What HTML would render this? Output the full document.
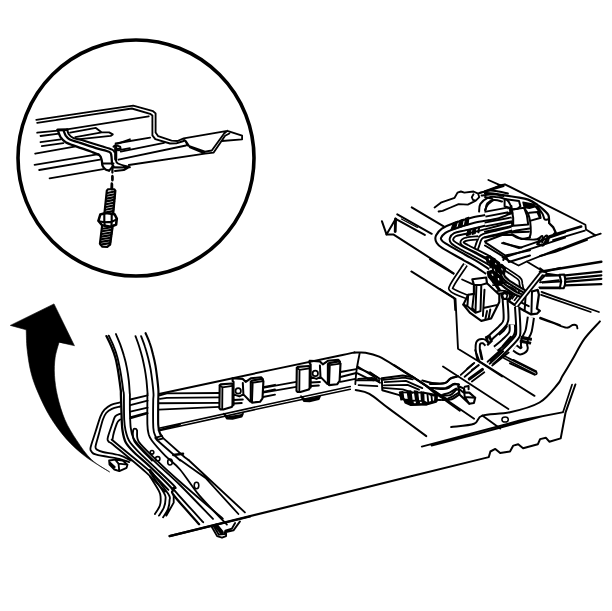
<!DOCTYPE html>
<html><head><meta charset="utf-8"><title>Diagram</title>
<style>html,body{margin:0;padding:0;background:#fff;font-family:"Liberation Sans",sans-serif;}svg{display:block}</style></head>
<body>
<svg width="612" height="611" viewBox="0 0 612 611" stroke-linecap="round" stroke-linejoin="round">
<circle cx="136" cy="158" r="118" fill="none" stroke="#000" stroke-width="3.6"/>
<path d="M59.0,342.5 C58.3,345.0 55.9,352.3 55.1,357.8 C54.4,363.3 54.1,369.1 54.5,375.5 C54.9,381.9 55.8,388.8 57.5,396.1 C59.2,403.5 61.7,412.3 64.9,419.7 C68.1,427.1 72.2,433.7 76.7,440.4 C81.1,447.0 85.9,454.2 91.4,459.5 C96.9,464.8 106.6,469.9 109.7,472.0 C105.7,469.4 92.7,462.1 85.5,456.6 C78.3,451.0 72.2,445.5 66.3,438.9 C60.4,432.2 54.8,424.4 50.1,416.8 C45.5,409.2 41.5,400.6 38.3,393.2 C35.1,385.8 32.8,379.9 31.0,372.5 C29.1,365.2 27.9,356.1 27.1,349.0 C26.3,341.8 26.4,333.0 26.2,329.8 L10.3,325.4 L54.0,303.9 L74.3,345.4Z" fill="#000" stroke="#000" stroke-width="0.6" stroke-linejoin="miter"/>
<path fill="none" stroke="#000" stroke-width="1.85" d="M36.3,119.9 L95.0,111.2 L133.2,105.6 L153.1,111.2 L155.6,113.4 L155.6,132.5 L158.2,136.2 L171.5,140.6 L177.4,141.0 L183.7,138.4 L227.3,130.8 L242.1,135.7 L242.1,139.3 L222.0,141.0 M37.2,122.9 L95.0,114.1 L131.8,108.5 L150.1,113.8 L152.4,115.6 L152.4,135.4 L155.3,139.1 L170.0,143.5 L176.3,143.3 L183.7,141.0 M183.7,138.4 L188.0,145.7 L205.0,151.6 L211.8,150.5 L224.1,133.5 L227.3,130.8 M185.8,141.0 L190.1,147.4 L205.0,153.7 L213.5,152.7 L225.1,135.7 L229.4,133.5 M37.2,132.7 L58.0,130.6 M67.0,129.3 L148.7,116.3 M115.6,143.5 L150.1,137.6 M120.7,151.6 L164.1,142.8 M118.5,159.7 L186.0,145.5 M128.8,165.0 L205.0,153.7 M40.5,136.0 L59.1,133.6 M40.5,142.2 L60.8,139.3 M41.8,146.1 L63.4,143.2 M35.2,153.7 L74.5,146.7 M34.6,164.8 L98.7,154.1 M39.2,170.0 L100.0,159.6 M49.6,178.3 L103.3,169.1 M70.1,132.6 L95.9,127.9 L101.8,132.4 L75.3,137.1 M101.8,132.4 L109.1,132.4 L112.8,134.4 L110.6,135.9 L77.5,139.3"/>
<path fill="none" stroke="#000" stroke-width="2.84" d="M57.6,130.0 L67.2,129.7"/>
<path fill="none" stroke="#000" stroke-width="2.27" d="M57.9,130.4 C58.4,131.5 59.3,135.1 60.6,137.1 C61.9,139.0 63.0,140.6 65.7,142.2 C68.4,143.8 72.5,145.0 76.8,146.6 C81.1,148.2 87.7,150.3 91.5,151.8 C95.3,153.2 97.8,154.0 99.6,155.4 C101.3,156.9 101.3,158.9 101.8,160.6 C102.3,162.3 101.9,164.3 102.5,165.7 C103.1,167.2 104.3,168.6 105.4,169.4 C106.5,170.2 108.5,170.4 109.1,170.6 M63.5,130.4 C63.9,131.3 64.8,134.1 65.7,135.6 C66.7,137.1 67.3,138.2 69.4,139.3 C71.5,140.4 73.8,140.7 78.2,142.2 C82.6,143.7 90.7,146.5 95.9,148.1 C101.0,149.7 106.5,150.5 109.1,151.8 C111.7,153.0 110.8,153.5 111.3,155.4 C111.8,157.4 111.7,161.7 112.1,163.5 C112.4,165.4 113.3,166.0 113.5,166.5"/>
<path fill="none" stroke="#000" stroke-width="1.99" d="M67.2,129.7 C67.5,130.4 67.7,132.8 68.7,134.1 C69.7,135.5 70.5,136.7 73.1,137.8 C75.7,138.9 79.3,139.3 84.1,140.7 C88.9,142.1 97.1,144.7 101.8,146.2 C106.4,147.6 110.0,148.6 112.1,149.6 C114.1,150.5 113.9,151.4 114.3,151.8"/>
<path fill="none" stroke="#000" stroke-width="3.12" d="M115.7,145.9 L115.7,159.1"/>
<path fill="none" stroke="#000" stroke-width="1.99" d="M115.7,159.1 C116.1,159.9 115.6,162.2 117.9,163.5 C120.3,164.9 127.9,166.6 129.9,167.2 M113.5,146.6 L115.7,145.1 L120.1,146.6 L120.6,148.5 L117.2,149.1 M103.2,163.5 L113.5,163.5 M109.1,170.6 L112.1,167.2 L128.2,167.6 L123.8,170.1 L115.0,170.9"/>
<path fill="none" stroke="#000" stroke-width="2.27" d="M112.4,166.8 L112.4,172.6 M112.4,176.8 L112.4,180.4 M112.1,184.1 L112.1,189.3"/>
<path fill="none" stroke="#000" stroke-width="1.85" d="M117.9,143.7 L129.9,139.3 M117.9,150.3 L129.9,148.1"/>
<path fill="none" stroke="#000" stroke-width="2.13" d="M104.3,214.2 L106.8,190.6 L108.0,189.2 L114.2,189.2 L115.4,190.6 L113.2,214.2 M107.3,193.0 L114.6,191.5"/>
<path fill="none" stroke="#000" stroke-width="1.85" d="M114.6,191.5 L115.1,193.0"/>
<path fill="none" stroke="#000" stroke-width="2.13" d="M107.0,195.8 L114.4,194.3"/>
<path fill="none" stroke="#000" stroke-width="1.85" d="M114.4,194.3 L114.8,195.8"/>
<path fill="none" stroke="#000" stroke-width="2.13" d="M106.7,198.6 L114.1,197.1"/>
<path fill="none" stroke="#000" stroke-width="1.85" d="M114.1,197.1 L114.6,198.6"/>
<path fill="none" stroke="#000" stroke-width="2.13" d="M106.4,201.4 L113.9,199.9"/>
<path fill="none" stroke="#000" stroke-width="1.85" d="M113.9,199.9 L114.3,201.4"/>
<path fill="none" stroke="#000" stroke-width="2.13" d="M106.1,204.2 L113.6,202.7"/>
<path fill="none" stroke="#000" stroke-width="1.85" d="M113.6,202.7 L114.0,204.2"/>
<path fill="none" stroke="#000" stroke-width="2.13" d="M105.8,207.0 L113.3,205.5"/>
<path fill="none" stroke="#000" stroke-width="1.85" d="M113.3,205.5 L113.8,207.0"/>
<path fill="none" stroke="#000" stroke-width="2.13" d="M105.5,209.8 L113.1,208.3"/>
<path fill="none" stroke="#000" stroke-width="1.85" d="M113.1,208.3 L113.5,209.8"/>
<path fill="none" stroke="#000" stroke-width="2.13" d="M105.2,212.6 L112.8,211.1"/>
<path fill="none" stroke="#000" stroke-width="1.85" d="M112.8,211.1 L113.2,212.6"/>
<path fill="none" stroke="#000" stroke-width="2.56" d="M98.4,220.8 L100.3,214.5 L105.8,213.0 L114.6,214.2 L116.8,218.6 L116.1,224.5 L110.9,226.7 L102.1,225.3 L98.4,220.8"/>
<path fill="none" stroke="#000" stroke-width="2.13" d="M98.9,221.3 L104.3,222.3 L111.7,221.9 L116.5,219.4 M104.3,214.2 L104.3,222.3 M111.7,214.2 L111.7,221.9 M104.3,222.3 L104.8,225.7 M111.7,221.9 L111.4,226.6 M102.1,225.7 L99.9,243.7 L102.1,246.6 L107.3,246.9 L110.2,244.4 L112.7,226.3 M102.5,228.7 L111.9,227.2"/>
<path fill="none" stroke="#000" stroke-width="1.85" d="M111.9,227.2 L112.3,228.7"/>
<path fill="none" stroke="#000" stroke-width="2.13" d="M102.2,231.3 L111.5,229.8"/>
<path fill="none" stroke="#000" stroke-width="1.85" d="M111.5,229.8 L112.0,231.3"/>
<path fill="none" stroke="#000" stroke-width="2.13" d="M101.8,234.0 L111.2,232.5"/>
<path fill="none" stroke="#000" stroke-width="1.85" d="M111.2,232.5 L111.6,234.0"/>
<path fill="none" stroke="#000" stroke-width="2.13" d="M101.5,236.6 L110.8,235.1"/>
<path fill="none" stroke="#000" stroke-width="1.85" d="M110.8,235.1 L111.2,236.6"/>
<path fill="none" stroke="#000" stroke-width="2.13" d="M101.2,239.3 L110.4,237.8"/>
<path fill="none" stroke="#000" stroke-width="1.85" d="M110.4,237.8 L110.9,239.3"/>
<path fill="none" stroke="#000" stroke-width="2.13" d="M100.9,241.9 L110.1,240.4"/>
<path fill="none" stroke="#000" stroke-width="1.85" d="M110.1,240.4 L110.5,241.9"/>
<path fill="none" stroke="#000" stroke-width="2.13" d="M100.6,244.6 L109.7,243.1"/>
<path fill="none" stroke="#000" stroke-width="1.85" d="M109.7,243.1 L110.2,244.6"/>
<path fill="none" stroke="#000" stroke-width="2.27" d="M112.4,175.9 L112.4,179.6 M111.7,183.3 L111.4,189.2 M106.4,336.1 C107.2,337.8 109.8,342.7 111.3,346.3 C112.8,349.9 114.3,353.9 115.4,357.7 C116.5,361.6 117.1,365.4 117.8,369.2 C118.5,373.0 119.0,377.1 119.5,380.6 C120.0,384.2 120.5,388.1 120.8,390.5 C121.0,392.9 120.8,390.2 120.9,395.0 C121.1,399.8 121.5,413.5 121.7,419.5 C122.0,425.6 121.9,427.2 122.6,431.0 C123.2,434.8 123.9,438.9 125.8,442.5 C127.7,446.0 129.9,448.2 134.0,452.3 C138.1,456.4 144.1,461.0 150.4,467.0 C156.7,473.0 167.8,483.6 171.7,488.3 C175.5,493.0 169.2,489.2 173.7,495.2 C178.3,501.2 194.9,519.3 199.1,524.2"/>
<path fill="none" stroke="#000" stroke-width="1.85" d="M108.8,335.6 C109.6,337.4 112.3,342.6 113.7,346.3 C115.2,350.0 116.5,353.9 117.5,357.7 C118.5,361.6 119.2,365.4 120.0,369.2 C120.7,373.0 121.4,377.1 121.9,380.6 C122.5,384.2 122.9,388.1 123.2,390.5 C123.5,392.9 123.7,390.2 123.9,395.0 C124.0,399.8 123.9,413.7 124.2,419.5 C124.5,425.4 124.7,426.6 125.5,430.2 C126.3,433.7 127.1,437.4 129.1,440.8 C131.1,444.2 133.2,446.4 137.3,450.6 C141.4,454.9 147.4,460.2 153.6,466.2 C159.9,472.2 171.4,482.6 174.9,486.7 C178.4,490.7 169.8,484.4 174.5,490.3 C179.3,496.2 198.4,516.9 203.2,522.2 M115.9,334.0 C116.6,335.8 118.9,341.0 120.3,344.6 C121.6,348.3 123.0,352.3 124.0,356.1 C125.1,359.9 126.0,363.5 126.8,367.6 C127.6,371.6 128.3,376.3 128.8,380.6 C129.3,385.0 129.6,391.3 129.8,393.7 C130.0,396.1 129.9,392.1 129.9,395.0 C129.9,397.9 129.8,405.9 129.9,411.4 C130.1,416.8 130.2,423.4 130.7,427.7 C131.3,432.1 131.6,434.3 133.2,437.6 C134.8,440.8 136.6,443.0 140.6,447.4 C144.5,451.7 150.3,457.5 156.9,463.7 C163.5,470.0 170.7,475.8 180.0,485.0 C189.3,494.2 207.5,513.3 213.0,518.9 M135.5,336.1 C136.1,337.8 138.0,342.7 139.1,346.3 C140.2,349.9 141.4,353.9 142.4,357.7 C143.3,361.6 144.1,365.4 144.8,369.2 C145.5,373.0 146.0,376.6 146.5,380.6 C146.9,384.7 147.4,391.3 147.6,393.7 C147.8,396.1 147.5,389.9 147.4,395.0 C147.4,400.1 147.2,417.9 147.4,424.5 C147.6,431.0 148.0,431.6 148.7,434.3 C149.5,437.0 149.3,437.3 152.0,440.8 C154.7,444.4 160.4,450.8 165.1,455.6 C169.8,460.3 174.3,462.9 180.0,469.5 C185.7,476.1 191.3,486.0 199.1,495.2 C206.9,504.4 222.3,519.7 226.9,524.6 M141.1,336.1 C141.7,337.8 143.7,342.7 144.8,346.3 C146.0,349.9 147.1,353.9 148.1,357.7 C149.1,361.6 149.9,365.4 150.6,369.2 C151.2,373.0 151.7,376.6 152.2,380.6 C152.7,384.7 153.3,390.3 153.5,393.7 C153.7,397.2 153.2,395.9 153.2,401.5 C153.1,407.2 153.0,422.0 153.3,427.7 C153.7,433.5 154.7,434.1 155.3,435.9 C155.9,437.7 156.7,438.0 156.9,438.4"/>
<path fill="none" stroke="#000" stroke-width="2.13" d="M145.6,333.2 C146.3,334.8 148.5,339.5 149.7,343.0 C151.0,346.5 152.1,350.6 153.0,354.5 C154.0,358.3 154.8,362.1 155.5,365.9 C156.1,369.7 156.6,373.3 157.1,377.4 C157.6,381.5 158.2,386.4 158.4,390.5 C158.6,394.5 158.3,395.9 158.2,401.5 C158.2,407.2 158.0,419.3 158.2,424.5 C158.5,429.6 159.1,430.7 159.7,432.6 C160.3,434.6 161.5,435.4 161.8,435.9"/>
<path fill="none" stroke="#000" stroke-width="1.85" d="M130.3,399.5 L147.6,395.4 M130.3,405.2 L147.6,400.6 M130.3,411.7 L147.6,407.7 M130.3,418.3 L147.6,413.4 M130.7,417.1 L147.4,412.7 M152.0,460.5 C149.4,457.7 139.6,447.9 136.5,444.1 C133.3,440.3 133.7,439.9 133.2,437.6 C132.6,435.2 132.9,431.7 133.2,430.2 C133.5,428.7 134.2,428.6 134.8,428.6 C135.5,428.6 136.5,428.7 137.0,430.2 C137.4,431.7 136.7,435.2 137.3,437.6 C137.9,439.9 137.0,440.0 140.6,444.1 C144.1,448.2 152.0,455.8 158.6,462.1 C165.1,468.4 169.3,472.3 180.0,481.7 C190.7,491.2 215.7,512.5 222.8,518.6 M120.1,402.4 C118.6,402.8 113.7,403.6 111.1,404.8 C108.5,406.0 106.3,407.8 104.5,409.7 C102.8,411.6 102.0,412.6 100.5,416.3 C99.0,420.0 97.2,426.6 95.5,431.8 C93.9,437.0 91.3,444.1 90.6,447.4 C90.0,450.6 90.5,450.2 91.5,451.5 C92.4,452.7 91.7,453.5 96.4,454.7 C101.0,456.0 113.8,457.6 119.3,458.8 C124.7,460.1 127.5,461.6 129.1,462.1 M120.1,406.5 C118.7,406.9 114.2,407.8 111.9,408.9 C109.6,410.0 107.7,411.2 106.2,413.0 C104.7,414.8 104.1,416.0 102.9,419.5 C101.7,423.1 100.0,429.8 98.8,434.3 C97.6,438.8 95.8,444.0 95.5,446.6 C95.3,449.1 96.0,448.9 97.2,449.8 C98.4,450.7 99.2,451.1 102.9,452.0 C106.6,452.9 114.6,453.8 119.3,455.2 C123.9,456.6 128.8,459.6 130.7,460.5 M120.1,413.8 C119.3,414.2 116.4,414.8 115.2,416.3 C114.0,417.8 114.0,419.3 112.7,422.8 C111.5,426.4 108.5,434.4 107.8,437.6 C107.1,440.7 107.6,440.3 108.6,441.6 C109.7,443.0 108.2,440.7 114.4,445.7 C120.5,450.8 137.0,464.3 145.5,471.9 C153.9,479.6 161.8,488.3 165.1,491.6 M120.1,419.5 C119.6,420.2 118.1,420.5 116.8,423.6 C115.6,426.8 113.0,435.2 112.7,438.4 C112.5,441.5 109.2,437.1 115.2,442.5 C121.2,447.8 139.9,462.4 148.7,470.3 C157.6,478.2 165.1,486.7 168.4,489.9 M109.1,460.5 L115.2,459.6 L122.6,460.5 L127.5,464.6 L126.6,467.8 L119.3,471.1 L114.4,469.5 L109.5,464.6 L109.1,460.5 M115.2,459.6 L118.5,463.7 L119.3,471.1 M118.5,463.7 L127.5,464.6 M109.5,462.1 L114.7,467.0 M155.3,437.9 L161.8,435.9 L163.5,438.4 L156.9,440.0 L155.3,437.9 M156.9,440.0 L180.3,460.5 M163.5,438.4 L184.7,457.2 L188.5,460.0"/>
<g fill="none" stroke="#000" stroke-width="1.6"><circle cx="152" cy="452.3" r="1.8"/><circle cx="157.7" cy="458.8" r="2.2"/><ellipse cx="170" cy="462" rx="2.3" ry="3"/><ellipse cx="196.5" cy="485.5" rx="2.3" ry="3.2"/></g>
<path fill="none" stroke="#000" stroke-width="1.85" d="M158.6,430.2 L180.0,424.5 M150.0,476.4 C151.5,478.8 157.2,487.6 159.0,491.1 C160.8,494.6 160.5,495.2 160.6,497.6 C160.8,500.1 160.8,503.1 159.8,505.8 C158.9,508.6 155.7,512.6 154.9,514.0 M150.0,472.3 C152.3,475.7 161.3,488.2 163.9,492.7 C166.5,497.2 165.5,496.8 165.5,499.3 C165.5,501.7 165.0,504.7 163.9,507.5 C162.8,510.2 159.8,514.3 159.0,515.6 M150.0,469.8 C153.0,473.8 164.7,488.5 168.0,493.6 C171.3,498.6 169.6,497.5 169.6,500.1 C169.6,502.7 169.1,506.2 168.0,509.1 C166.9,512.0 163.9,515.9 163.1,517.3 M173.7,495.2 L173.7,502.6 L166.4,515.6 M180.3,460.0 L205.6,478.0 L238.4,514.0 M188.5,460.0 L244.9,512.4"/>
<path fill="none" stroke="#000" stroke-width="2.27" d="M169.6,536.1 L250.0,516.5"/>
<path fill="none" stroke="#000" stroke-width="1.85" d="M211.4,526.3 L217.1,536.1 L222.0,537.7 L226.1,536.1 L226.1,532.0 L233.5,530.4 L240.0,521.4 M213.8,526.3 L218.7,534.5 L224.5,534.0 L225.3,530.7 L231.8,528.7 L235.1,523.0"/>
<path fill="none" stroke="#000" stroke-width="4.26" d="M216.3,525.8 L221.7,532.3"/>
<path fill="none" stroke="#000" stroke-width="1.99" d="M158.9,394.0 C178.3,389.9 244.4,375.6 275.0,369.1 C305.6,362.6 329.3,357.7 342.5,355.0 C355.7,352.2 352.4,352.8 354.3,352.4 C356.1,352.0 351.9,352.7 353.7,352.7 C355.6,352.8 361.2,352.1 365.5,352.7 C369.7,353.4 373.7,354.1 379.2,356.7 C384.8,359.3 391.6,363.9 398.8,368.4 C406.0,373.0 415.2,379.2 422.4,384.1 C429.5,389.0 435.7,393.4 442.0,397.8 C448.2,402.3 456.8,408.5 459.8,410.6"/>
<path fill="none" stroke="#000" stroke-width="1.49" d="M158.9,428.2 L275.0,402.7 L350.3,386.6 M158.9,430.7 L275.0,405.2 L350.3,389.3"/>
<path fill="none" stroke="#000" stroke-width="1.85" d="M359.6,353.7 C359.1,356.3 357.4,364.3 356.7,369.4 C355.9,374.5 355.5,381.7 355.3,384.1"/>
<path fill="none" stroke="#000" stroke-width="1.99" d="M355.7,390.0 C358.0,390.7 363.9,390.8 369.4,393.9 C375.0,397.0 379.5,401.6 389.0,408.6 C398.5,415.7 420.1,431.5 426.3,436.1"/>
<path fill="none" stroke="#000" stroke-width="1.85" d="M159.9,395.4 L166.8,393.4 L219.8,393.0 M159.9,398.9 L166.8,397.9 L219.8,397.3 M158.9,403.2 L219.8,402.8 M158.9,409.7 L219.8,406.8 M263.0,387.1 L275.0,384.8 M263.0,392.0 L275.0,389.5 M263.0,397.0 L275.0,394.6"/>
<path fill="#fff" stroke="#000" stroke-width="2.13" d="M219.7,385.4 L220.8,384.4 L231.9,383.5 L232.7,384.6 L232.5,405.8 L231.6,407.0 L223.3,409.5 L220.5,409.5 L219.4,408.3Z"/>
<path fill="none" stroke="#000" stroke-width="1.85" d="M222.2,409.0 L222.4,387.3 L232.5,385.8 M219.7,385.4 L222.4,387.3"/>
<path fill="none" stroke="#000" stroke-width="2.13" d="M232.7,381.2 L232.5,378.3 L242.8,378.9 L245.7,381.8 L250.8,378.3 L261.1,377.2 L262.9,379.2"/>
<path fill="none" stroke="#000" stroke-width="1.99" d="M233.6,381.8 L233.6,404.9 M242.8,382.9 L243.4,394.4 L250.3,401.5 M233.6,400.1 L242.8,399.5 M234.2,403.5 L241.7,403.0 M233.6,394.4 L239.4,396.4 L243.4,394.4"/>
<circle cx="238.2" cy="390.9" r="2.7" fill="none" stroke="#000" stroke-width="1.7"/>
<path fill="#fff" stroke="#000" stroke-width="2.13" d="M250.8,381.8 L252.0,380.6 L261.7,378.9 L263.4,381.2 L262.5,398.4 L260.0,401.8 L252.0,402.6 L250.8,401.0Z"/>
<path fill="none" stroke="#000" stroke-width="1.85" d="M252.0,402.2 L252.7,382.7 L263.2,381.2 M250.8,381.8 L252.7,382.7"/>
<path fill="#000" stroke="#000" stroke-width="1.70" d="M223.9,413.6 L226.8,418.7 L232.5,419.0 L241.7,416.7 L243.0,413.6 L240.5,415.2 L227.9,417.1Z"/>
<path fill="none" stroke="#000" stroke-width="1.85" d="M262.9,387.8 L296.3,381.9 M262.9,392.7 L296.3,386.8 M340.5,372.0 L356.2,369.1 M340.5,377.0 L356.2,373.0 M340.5,381.9 L355.3,378.9 M358.2,368.1 L370.0,373.0 L380.0,378.9 M358.2,378.9 L371.9,377.9 L380.0,382.8"/>
<path fill="#fff" stroke="#000" stroke-width="2.13" d="M296.8,367.9 L297.9,366.9 L309.0,366.0 L309.8,367.1 L309.6,388.3 L308.7,389.5 L300.4,392.0 L297.6,392.0 L296.5,390.8Z"/>
<path fill="none" stroke="#000" stroke-width="1.85" d="M299.3,391.5 L299.5,369.8 L309.6,368.3 M296.8,367.9 L299.5,369.8"/>
<path fill="none" stroke="#000" stroke-width="2.13" d="M309.8,363.7 L309.6,360.8 L319.9,361.4 L322.8,364.3 L327.9,360.8 L338.2,359.7 L340.0,361.7"/>
<path fill="none" stroke="#000" stroke-width="1.99" d="M310.7,364.3 L310.7,387.4 M319.9,365.4 L320.5,376.9 L327.4,384.0 M310.7,382.6 L319.9,382.0 M311.3,386.0 L318.8,385.5 M310.7,376.9 L316.5,378.9 L320.5,376.9"/>
<circle cx="315.3" cy="373.4" r="2.7" fill="none" stroke="#000" stroke-width="1.7"/>
<path fill="#fff" stroke="#000" stroke-width="2.13" d="M327.9,364.3 L329.1,363.1 L338.8,361.4 L340.5,363.7 L339.6,380.9 L337.1,384.3 L329.1,385.1 L327.9,383.5Z"/>
<path fill="none" stroke="#000" stroke-width="1.85" d="M329.1,384.7 L329.8,365.2 L340.3,363.7 M327.9,364.3 L329.8,365.2"/>
<path fill="#000" stroke="#000" stroke-width="1.70" d="M301.0,396.1 L303.9,401.2 L309.6,401.5 L318.8,399.2 L320.1,396.1 L317.6,397.7 L305.0,399.6Z"/>
<path fill="none" stroke="#000" stroke-width="1.85" d="M357.6,366.5 L373.3,376.3 L379.2,382.2 M357.6,373.3 L371.4,380.2 M356.7,380.2 L379.2,380.2 M358.6,385.1 L377.3,386.1"/>
<path fill="#fff" stroke="#000" stroke-width="1.99" d="M381.8,378.3 L402.7,375.5 L412.8,377.2 L424.7,384.8 L437.0,395.1 L436.2,401.7 L427.2,404.4 L407.6,402.8 L399.4,395.1 L382.3,390.2Z"/>
<path fill="none" stroke="#000" stroke-width="1.85" d="M383.1,379.9 L404.3,377.6 L412.8,379.3 M384.7,382.1 L405.9,380.9 L422.3,388.1 M383.9,385.3 L407.6,384.8 L419.0,389.7 M383.1,387.8 L402.7,389.4 L412.5,392.7"/>
<path fill="#000" stroke="#000" stroke-width="1.42" d="M399.7,392.4 L402.7,391.7 L403.7,399.2 L401.0,399.9Z M407.3,391.4 L410.8,391.0 L411.8,399.2 L408.6,400.2Z M414.4,391.0 L417.4,391.4 L418.4,399.9 L415.8,400.5Z M421.0,392.0 L423.6,392.7 L423.9,400.8 L421.6,400.8Z M403.7,399.2 L412.5,400.2 L423.9,401.2 L427.2,402.8 L426.4,404.8 L410.8,405.4 L405.1,402.8Z"/>
<path fill="none" stroke="#000" stroke-width="1.85" d="M399.7,392.4 L423.9,392.7 M427.5,394.6 L428.2,402.2 M431.4,395.0 L432.1,401.8"/>
<path fill="none" stroke="#000" stroke-width="2.13" d="M423.9,392.7 L436.2,395.1 L436.7,400.8 L426.4,403.8"/>
<path fill="#fff" stroke="#000" stroke-width="1.14" d="M412.8,401.2 L416.1,400.8 L416.6,403.5 L413.5,403.8Z M419.0,401.2 L422.0,401.2 L422.6,403.5 L419.8,403.8Z"/>
<path fill="none" stroke="#000" stroke-width="1.99" d="M422.3,380.4 C423.9,380.8 428.3,382.5 432.1,382.9 C435.9,383.3 442.2,383.6 445.2,382.9 C448.2,382.2 447.9,379.9 450.1,378.8 C452.2,377.7 456.9,376.7 458.2,376.3 M435.4,388.6 C437.3,388.6 443.8,389.3 446.8,388.6 C449.8,387.9 451.3,385.2 453.3,384.5 C455.4,383.8 458.1,384.5 459.1,384.5 M438.6,395.1 C440.5,395.1 447.1,396.0 450.1,395.1 C453.1,394.2 454.7,390.6 456.6,389.7 C458.5,388.9 460.7,390.1 461.5,390.2 M441.9,400.0 C443.5,399.9 448.8,400.1 451.7,399.2 C454.6,398.3 457.8,395.4 459.1,394.6"/>
<path fill="none" stroke="#000" stroke-width="1.85" d="M370.0,372.3 L377.4,377.2 L373.3,380.4 L370.0,378.8"/>
<path fill="none" stroke="#000" stroke-width="1.99" d="M394.5,365.4 C396.7,366.8 403.5,371.0 407.6,373.6 C411.7,376.1 414.4,377.9 419.0,380.9 C423.6,383.9 430.5,388.5 435.4,391.7 C440.3,394.9 446.3,398.8 448.4,400.2 M412.0,476.0 L488.8,457.1 L490.4,451.5 L495.3,448.9 L500.2,453.1 L510.0,451.5 L513.3,445.6 L518.2,444.3 L523.1,448.2 L537.8,444.3 L540.1,439.1 L546.0,437.8 L549.3,441.7 L560.7,438.4 L565.6,412.3 L575.4,384.5"/>
<path fill="none" stroke="#000" stroke-width="1.70" d="M563.0,412.3 L572.1,384.5"/>
<path fill="none" stroke="#000" stroke-width="1.85" d="M421.8,446.6 L477.4,431.9 L519.8,420.5 L562.3,412.3 M431.6,445.6 L477.4,433.9 L519.8,422.4 L542.7,416.2"/>
<path fill="none" stroke="#000" stroke-width="1.99" d="M451.2,427.0 C455.0,426.4 468.9,425.6 474.1,423.7 C479.3,421.8 476.3,417.5 482.3,415.6 C488.3,413.6 500.5,414.5 510.0,412.3 C519.6,410.1 531.6,407.1 539.5,402.5 C547.3,397.9 553.6,388.9 557.4,384.5 C561.2,380.2 559.9,380.4 562.3,376.3 C564.8,372.3 568.5,366.2 572.1,360.0 C575.8,353.8 579.6,345.5 584.2,339.1 C588.9,332.7 597.3,324.4 599.9,321.4"/>
<path fill="none" stroke="#000" stroke-width="1.85" d="M482.3,415.6 L500.2,428.6"/>
<ellipse cx="505.1" cy="419.5" rx="3.2" ry="2.6" fill="none" stroke="#000" stroke-width="1.5"/>
<path fill="none" stroke="#000" stroke-width="1.85" d="M443.0,366.5 L508.4,409.0 M412.0,376.3 L474.1,418.8 M477.4,360.0 L534.5,395.9"/>
<path fill="none" stroke="#000" stroke-width="1.99" d="M513.3,360.0 L536.2,371.4 L534.5,374.7 L510.0,363.3"/>
<path fill="none" stroke="#000" stroke-width="2.13" d="M169.6,536.1 L412.0,476.0"/>
<path fill="none" stroke="#000" stroke-width="1.99" d="M381.9,221.2 L386.5,234.4 L395.6,218.9"/>
<path fill="none" stroke="#000" stroke-width="2.84" d="M395.6,218.9 L395.2,231.5"/>
<path fill="none" stroke="#000" stroke-width="1.99" d="M386.5,234.4 L393.3,234.4 L445.0,267.6 L453.6,273.4 M395.6,218.9 L424.8,234.9 M397.3,214.3 L431.7,233.8"/>
<path fill="none" stroke="#000" stroke-width="1.14" d="M401.4,218.9 L417.4,227.5"/>
<path fill="none" stroke="#000" stroke-width="1.99" d="M411.7,207.4 L443.7,226.4"/>
<path fill="none" stroke="#000" stroke-width="1.85" d="M411.3,271.4 L453.6,297.9 L454.6,299.6 L455.2,310.0 M488.4,180.0 L500.0,185.2 L499.2,185.5 L504.9,184.3 L560.0,211.8 L585.4,224.8 L586.0,229.5 L595.4,235.4 L600.7,233.6 M490.0,190.0 L503.7,186.0"/>
<path fill="none" stroke="#000" stroke-width="2.56" d="M555.3,234.2 L581.2,226.5"/>
<path fill="none" stroke="#000" stroke-width="1.85" d="M553.0,240.1 L584.8,230.7 M540.0,256.0 L544.7,254.8 L595.4,235.4 M540.0,255.9 L555.3,251.8 L587.1,240.0"/>
<path fill="none" stroke="#000" stroke-width="2.56" d="M540.0,271.8 L601.3,261.8"/>
<path fill="none" stroke="#000" stroke-width="1.85" d="M542.4,292.4 L598.9,312.0 M541.2,294.8 L590.7,312.0 M434.6,207.5 L441.5,202.3 L454.6,197.8 L457.5,192.6 L460.9,191.5 L464.4,192.6 L473.5,191.5 L478.1,193.7 L480.4,192.6 L489.6,190.3 L500.0,185.7 M438.6,211.5 L442.6,210.9 L450.6,207.5 L458.6,204.1 L467.8,204.6 L475.8,200.6 L479.3,197.2 L478.1,193.7 M473.5,194.3 L471.8,197.2 L473.0,200.0 L475.8,200.6 M502.6,257.5 L518.6,265.5 L526.7,261.5 L560.0,248.3 M526.7,261.5 L543.8,271.8 L560.0,267.8 M546.1,275.8 L560.0,275.3 M542.7,282.7 L560.0,281.6 M539.3,287.3 L560.0,287.3 M541.6,291.9 L560.0,298.7 M440.0,289.0 L455.5,298.8 L458.0,348.7 L480.9,362.7 L502.2,376.6 M430.0,259.5 L453.5,273.8"/>
<path fill="none" stroke="#000" stroke-width="5.50" stroke-linecap="butt" d="M465.5,264.6 C463.3,268.0 454.5,280.4 452.3,284.7 C450.1,289.0 450.0,288.4 452.3,290.4 C454.7,292.4 464.3,295.7 466.7,296.7"/><path fill="none" stroke="#fff" stroke-width="2.09" stroke-linecap="butt" d="M465.5,264.6 C463.3,268.0 454.5,280.4 452.3,284.7 C450.1,289.0 450.0,288.4 452.3,290.4 C454.7,292.4 464.3,295.7 466.7,296.7"/>
<path fill="none" stroke="#000" stroke-width="1.85" d="M462.1,279.5 L472.4,284.1"/>
<path fill="none" stroke="#000" stroke-width="5.40" stroke-linecap="butt" d="M511.7,228.6 C509.5,229.2 502.6,230.9 498.0,232.1 C493.4,233.2 487.1,234.5 484.1,235.5 C481.2,236.6 481.3,236.7 480.1,238.4 C479.0,240.1 478.0,243.7 477.3,245.8 C476.6,247.9 475.7,249.5 475.9,251.0 C476.1,252.4 476.5,253.3 478.4,254.4 C480.4,255.6 486.0,257.3 487.6,257.9"/><path fill="none" stroke="#fff" stroke-width="1.71" stroke-linecap="butt" d="M511.7,228.6 C509.5,229.2 502.6,230.9 498.0,232.1 C493.4,233.2 487.1,234.5 484.1,235.5 C481.2,236.6 481.3,236.7 480.1,238.4 C479.0,240.1 478.0,243.7 477.3,245.8 C476.6,247.9 475.7,249.5 475.9,251.0 C476.1,252.4 476.5,253.3 478.4,254.4 C480.4,255.6 486.0,257.3 487.6,257.9"/>
<path fill="none" stroke="#000" stroke-width="5.00" stroke-linecap="butt" d="M478.4,237.8 C476.5,238.0 469.5,238.5 467.0,239.0 C464.4,239.4 463.7,239.9 462.9,240.7 C462.2,241.4 461.7,242.4 462.4,243.3 C463.0,244.3 464.3,244.9 467.0,246.4 C469.6,247.9 475.0,250.4 478.4,252.1 C481.8,253.8 484.9,255.3 487.6,256.7 C490.2,258.1 493.3,260.1 494.4,260.7"/><path fill="none" stroke="#fff" stroke-width="1.31" stroke-linecap="butt" d="M478.4,237.8 C476.5,238.0 469.5,238.5 467.0,239.0 C464.4,239.4 463.7,239.9 462.9,240.7 C462.2,241.4 461.7,242.4 462.4,243.3 C463.0,244.3 464.3,244.9 467.0,246.4 C469.6,247.9 475.0,250.4 478.4,252.1 C481.8,253.8 484.9,255.3 487.6,256.7 C490.2,258.1 493.3,260.1 494.4,260.7"/>
<path fill="none" stroke="#000" stroke-width="5.40" stroke-linecap="butt" d="M511.7,220.6 C509.5,221.2 503.6,222.6 498.0,224.1 C492.4,225.5 484.0,227.8 478.4,229.2 C472.9,230.6 468.6,231.4 464.7,232.3 C460.7,233.2 457.1,233.6 454.9,234.7 C452.7,235.8 451.9,237.5 451.5,238.7 C451.1,240.0 451.3,240.8 452.6,242.2 C454.0,243.5 455.8,244.6 459.5,246.7 C463.2,248.9 470.5,252.6 475.0,255.0 C479.5,257.4 483.6,259.7 486.4,261.3 C489.3,262.9 491.2,264.2 492.2,264.7"/><path fill="none" stroke="#fff" stroke-width="1.57" stroke-linecap="butt" d="M511.7,220.6 C509.5,221.2 503.6,222.6 498.0,224.1 C492.4,225.5 484.0,227.8 478.4,229.2 C472.9,230.6 468.6,231.4 464.7,232.3 C460.7,233.2 457.1,233.6 454.9,234.7 C452.7,235.8 451.9,237.5 451.5,238.7 C451.1,240.0 451.3,240.8 452.6,242.2 C454.0,243.5 455.8,244.6 459.5,246.7 C463.2,248.9 470.5,252.6 475.0,255.0 C479.5,257.4 483.6,259.7 486.4,261.3 C489.3,262.9 491.2,264.2 492.2,264.7"/>
<path fill="none" stroke="#000" stroke-width="7.60" stroke-linecap="butt" d="M511.7,209.6 C509.5,210.6 504.3,213.7 498.0,215.5 C491.7,217.2 481.3,218.2 473.8,220.0 C466.4,221.9 458.3,224.5 453.2,226.4 C448.1,228.2 445.9,229.2 443.5,230.9 C441.0,232.7 439.3,235.0 438.5,236.7 C437.8,238.3 438.0,239.5 438.9,241.0 C439.8,242.5 439.6,243.0 444.0,245.8 C448.4,248.6 459.7,254.7 465.2,257.9 C470.8,261.0 473.5,262.4 477.3,264.7 C481.0,267.0 485.9,270.5 487.6,271.6"/><path fill="none" stroke="#fff" stroke-width="3.48" stroke-linecap="butt" d="M511.7,209.6 C509.5,210.6 504.3,213.7 498.0,215.5 C491.7,217.2 481.3,218.2 473.8,220.0 C466.4,221.9 458.3,224.5 453.2,226.4 C448.1,228.2 445.9,229.2 443.5,230.9 C441.0,232.7 439.3,235.0 438.5,236.7 C437.8,238.3 438.0,239.5 438.9,241.0 C439.8,242.5 439.6,243.0 444.0,245.8 C448.4,248.6 459.7,254.7 465.2,257.9 C470.8,261.0 473.5,262.4 477.3,264.7 C481.0,267.0 485.9,270.5 487.6,271.6"/>
<path fill="none" stroke="#000" stroke-width="2.13" d="M511.3,206.0 L512.3,213.7 M511.3,218.6 L512.3,225.2"/>
<path fill="#000" stroke="#000" stroke-width="1.14" d="M450.9,230.0 L453.4,222.9 L457.6,221.2 L455.5,228.6Z M458.0,227.8 L459.8,220.6 L463.3,219.2 L461.9,226.6Z M464.4,225.8 L465.6,218.3 L468.8,217.2 L468.1,224.6Z M466.4,235.7 L467.9,230.0 L471.1,229.2 L470.2,234.8Z M472.1,234.4 L473.1,228.6 L475.9,228.0 L475.2,233.5Z"/>
<path fill="none" stroke="#000" stroke-width="2.13" d="M478.4,232.3 L479.0,227.5"/>
<path fill="none" stroke="#000" stroke-width="1.99" d="M485.6,242.7 L505.3,255.5 L530.0,250.2 M505.3,255.5 L508.9,262.0 L530.0,255.5"/>
<path fill="none" stroke="#000" stroke-width="1.85" d="M502.0,243.2 L521.7,247.6 M511.8,234.2 L521.7,239.1 L530.0,237.5"/>
<path fill="none" stroke="#000" stroke-width="1.99" d="M479.1,211.6 C479.3,210.3 479.0,206.1 480.4,203.9 C481.8,201.7 484.8,199.4 487.3,198.2 C489.8,197.0 492.2,196.6 495.5,196.9 C498.7,197.1 504.3,198.2 506.9,199.8 C509.5,201.4 510.3,205.3 511.0,206.4 M485.6,210.0 C485.9,208.9 485.9,205.1 487.3,203.4 C488.7,201.8 491.7,200.5 494.2,200.1 C496.6,199.8 500.7,201.2 502.0,201.5 M480.4,192.8 C481.9,192.4 486.5,190.8 489.6,190.5 C492.6,190.3 495.7,191.0 498.7,191.5 C501.8,192.0 506.4,193.2 507.9,193.5 M481.6,195.5 C483.7,195.3 490.5,194.2 494.2,194.3 C497.8,194.4 501.8,195.8 503.3,196.0"/>
<path fill="none" stroke="#000" stroke-width="1.85" d="M485.0,191.1 L499.4,185.9"/>
<path fill="none" stroke="#000" stroke-width="2.27" d="M485.0,193.1 C487.2,193.3 493.1,193.7 498.1,194.4 C503.1,195.1 510.1,196.1 515.1,197.0 C520.1,197.9 524.5,198.3 528.2,199.6 C531.9,200.9 534.8,203.1 537.4,204.9 C540.0,206.6 542.1,208.4 543.9,210.1 C545.8,211.9 547.6,213.2 548.5,215.4 C549.4,217.5 549.0,221.9 549.2,223.2 M549.2,223.2 L553.1,227.1 L555.7,232.4 L553.1,235.0 L549.2,236.3 L547.8,241.5 L542.6,245.5 L537.4,244.2"/>
<path fill="none" stroke="#000" stroke-width="1.99" d="M485.0,197.0 C486.3,197.5 492.4,198.3 492.9,199.6 C493.3,200.9 488.9,203.1 487.6,204.9 C486.3,206.6 485.4,209.2 485.0,210.1 M504.6,199.0 L519.0,200.9 L520.4,206.2 L517.7,208.8 L512.5,209.5 M504.6,199.0 L504.6,206.2"/>
<path fill="#000" stroke="#000" stroke-width="1.42" d="M523.0,202.3 L533.4,204.2 L534.8,206.8 L529.5,208.2 L524.3,207.5Z"/>
<path fill="none" stroke="#000" stroke-width="1.99" d="M524.3,208.2 C524.9,209.1 527.2,211.8 528.2,214.0 C529.2,216.3 529.7,218.8 530.2,221.9 C530.6,225.0 530.9,229.8 530.8,232.4 C530.7,235.0 529.7,236.7 529.5,237.6 M529.5,212.7 L537.4,212.1 L540.0,218.0 L530.8,220.6 M537.4,206.2 C538.2,207.5 541.4,211.9 542.6,214.0 C543.8,216.2 543.7,218.4 544.6,219.3 C545.5,220.2 547.5,219.3 548.1,219.3 M533.4,204.2 C534.3,205.3 537.5,208.5 538.7,210.8 C539.9,213.1 540.3,216.8 540.6,218.0"/>
<path fill="none" stroke="#000" stroke-width="6.60" stroke-linecap="butt" d="M485.0,214.3 L507.9,209.9"/><path fill="none" stroke="#fff" stroke-width="2.91" stroke-linecap="butt" d="M485.0,214.3 L507.9,209.9"/>
<path fill="none" stroke="#000" stroke-width="2.13" d="M505.9,206.8 L509.9,208.2 L510.5,213.4 L507.3,213.0"/>
<path fill="none" stroke="#000" stroke-width="5.60" stroke-linecap="butt" d="M485.0,224.5 L511.8,219.3"/><path fill="none" stroke="#fff" stroke-width="1.91" stroke-linecap="butt" d="M485.0,224.5 L511.8,219.3"/>
<path fill="none" stroke="#000" stroke-width="1.99" d="M511.8,209.5 L524.3,207.8 M511.8,209.5 L513.2,218.0 L513.2,225.8 L528.2,224.5 L526.9,215.4 L524.3,208.2 M485.0,231.7 L513.2,225.8 M485.0,237.6 L502.0,234.3 L516.4,230.4 L529.5,228.4 M509.9,232.6 L528.9,231.8 M512.5,235.0 C513.6,235.5 515.3,237.5 519.0,238.3 C522.8,239.0 531.3,239.7 534.8,239.6 C538.2,239.5 539.1,237.9 540.0,237.6"/>
<path fill="none" stroke="#000" stroke-width="1.85" d="M537.4,244.2 C537.8,243.1 539.1,238.9 540.0,237.6 C540.9,236.3 542.3,235.6 542.6,236.3 C542.9,237.0 542.1,240.7 542.0,241.5 M542.0,242.8 C542.4,241.9 543.7,238.2 544.6,237.0 C545.4,235.8 546.9,235.0 547.2,235.6 C547.5,236.3 546.6,240.0 546.5,240.9 M539.3,242.8 L543.3,237.6 M543.9,243.5 L547.8,237.6"/>
<path fill="none" stroke="#000" stroke-width="1.99" d="M485.0,241.5 L502.0,235.0 L512.5,235.0 M503.3,242.8 L519.0,248.1 L565.0,232.4 M485.0,245.5 L504.6,257.3 L565.0,237.6 M504.6,257.3 L503.3,260.0"/>
<path fill="#000" stroke="#000" stroke-width="1.14" d="M490.0,258.6 L494.6,258.6 L496.9,263.2 L494.6,267.8 L490.0,267.8Z"/>
<path fill="#fff" stroke="#000" stroke-width="1.42" d="M491.7,260.9 L494.0,260.7 L494.6,264.4 L492.3,265.5Z"/>
<path fill="#000" stroke="#000" stroke-width="1.14" d="M495.7,263.2 L501.5,264.4 L503.7,269.0 L500.3,273.5 L495.7,271.2Z"/>
<path fill="#fff" stroke="#000" stroke-width="1.42" d="M497.4,265.5 L500.3,266.1 L501.2,269.0 L498.6,270.7Z"/>
<path fill="#000" stroke="#000" stroke-width="1.14" d="M490.0,272.4 L498.0,274.7 L503.7,278.1 L501.5,282.7 L493.4,280.4 L490.0,278.1Z"/>
<path fill="#fff" stroke="#000" stroke-width="1.42" d="M492.3,275.3 L496.9,276.4 L499.2,278.7 L494.6,278.7Z"/>
<path fill="none" stroke="#000" stroke-width="4.60" stroke-linecap="butt" d="M501.5,266.7 C504.3,268.6 515.4,275.3 518.6,278.1 C521.9,281.0 520.4,281.9 520.9,283.8 C521.5,285.8 521.9,288.6 522.1,289.6"/><path fill="none" stroke="#fff" stroke-width="1.19" stroke-linecap="butt" d="M501.5,266.7 C504.3,268.6 515.4,275.3 518.6,278.1 C521.9,281.0 520.4,281.9 520.9,283.8 C521.5,285.8 521.9,288.6 522.1,289.6"/>
<path fill="none" stroke="#000" stroke-width="4.60" stroke-linecap="butt" d="M492.3,283.8 C494.4,283.8 500.9,283.0 504.9,283.8 C508.9,284.7 514.3,287.3 516.4,289.0 C518.4,290.7 517.5,292.3 516.9,294.2 C516.4,296.0 513.6,299.0 512.9,300.0"/><path fill="none" stroke="#fff" stroke-width="1.19" stroke-linecap="butt" d="M492.3,283.8 C494.4,283.8 500.9,283.0 504.9,283.8 C508.9,284.7 514.3,287.3 516.4,289.0 C518.4,290.7 517.5,292.3 516.9,294.2 C516.4,296.0 513.6,299.0 512.9,300.0"/>
<path fill="none" stroke="#000" stroke-width="4.40" stroke-linecap="butt" d="M490.0,294.2 C491.9,293.8 498.4,291.9 501.5,291.9 C504.5,291.9 507.4,292.8 508.3,294.2 C509.3,295.5 507.4,299.0 507.2,300.0"/><path fill="none" stroke="#fff" stroke-width="0.99" stroke-linecap="butt" d="M490.0,294.2 C491.9,293.8 498.4,291.9 501.5,291.9 C504.5,291.9 507.4,292.8 508.3,294.2 C509.3,295.5 507.4,299.0 507.2,300.0"/>
<path fill="none" stroke="#000" stroke-width="1.85" d="M540.0,268.3 L547.1,273.6 L558.9,275.4 M540.0,275.4 L558.9,275.4 M540.0,282.4 L558.9,280.1 M540.0,288.3 L560.0,288.3 M547.1,273.6 L540.0,280.7"/>
<path fill="#fff" stroke="#000" stroke-width="2.13" d="M559.4,274.8 L564.2,274.5 L565.3,278.9 L565.0,284.8 L563.6,288.3 L559.8,288.1 L561.2,281.2Z"/>
<path fill="none" stroke="#000" stroke-width="2.27" d="M565.3,275.4 L601.3,271.6 M565.3,278.9 L601.3,275.4 M565.3,281.8 L601.3,278.9 M565.3,285.4 L601.3,284.2"/>
<path fill="none" stroke="#000" stroke-width="5.00" stroke-linecap="butt" d="M493.6,262.0 C493.9,264.2 494.3,271.5 495.7,275.1 C497.0,278.6 498.7,280.4 501.7,283.3 C504.8,286.1 510.7,290.2 514.0,292.3 C517.3,294.3 520.1,295.0 521.4,295.6"/><path fill="none" stroke="#fff" stroke-width="0.74" stroke-linecap="butt" d="M493.6,262.0 C493.9,264.2 494.3,271.5 495.7,275.1 C497.0,278.6 498.7,280.4 501.7,283.3 C504.8,286.1 510.7,290.2 514.0,292.3 C517.3,294.3 520.1,295.0 521.4,295.6"/>
<path fill="none" stroke="#000" stroke-width="5.00" stroke-linecap="butt" d="M500.9,265.3 C501.4,267.3 501.4,274.1 503.9,277.5 C506.3,281.0 512.2,283.9 515.6,286.2 C519.1,288.5 523.1,290.6 524.6,291.5"/><path fill="none" stroke="#fff" stroke-width="0.74" stroke-linecap="butt" d="M500.9,265.3 C501.4,267.3 501.4,274.1 503.9,277.5 C506.3,281.0 512.2,283.9 515.6,286.2 C519.1,288.5 523.1,290.6 524.6,291.5"/>
<path fill="none" stroke="#000" stroke-width="3.12" d="M491.9,271.8 L493.6,281.6 L499.3,289.8"/>
<path fill="none" stroke="#000" stroke-width="2.84" d="M501.7,294.7 L505.0,291.8 L512.7,294.4 L509.1,300.0 L502.9,298.8 L501.7,294.7"/>
<path fill="#fff" stroke="#000" stroke-width="2.13" d="M463.3,304.6 L468.2,294.7 L473.9,293.9 L473.9,284.9 L472.3,279.2 L486.2,277.5 L487.0,283.3 L499.3,294.7 L499.3,302.1 L491.1,318.5 L481.3,320.9 L469.8,312.7Z"/>
<path fill="none" stroke="#000" stroke-width="1.99" d="M473.9,293.9 L472.3,307.8 L475.5,312.7 L480.5,311.1 L481.3,284.9 L487.0,283.3 M473.9,284.9 L481.3,284.9 M476.4,286.5 L475.5,311.1 M484.5,289.8 L482.9,316.0 M484.5,307.8 L497.6,304.9 M487.0,311.1 L485.4,319.0 M490.3,309.5 L488.6,318.5 M468.2,294.7 L467.4,306.2 L475.5,312.7 M467.4,306.2 L463.3,304.6"/>
<path fill="none" stroke="#000" stroke-width="2.27" d="M532.0,291.5 L537.7,289.8 L538.9,294.7 L536.9,308.6 L539.9,310.8 L536.9,313.7 L531.2,314.4 L518.9,307.8 L509.1,301.3"/>
<path fill="none" stroke="#000" stroke-width="1.99" d="M532.0,291.5 L531.4,314.0 M525.5,297.2 L524.6,311.1 M518.9,301.3 L528.7,306.2"/>
<path fill="none" stroke="#000" stroke-width="5.40" stroke-linecap="butt" d="M541.5,273.8 L516.0,305.9"/><path fill="none" stroke="#fff" stroke-width="1.71" stroke-linecap="butt" d="M541.5,273.8 L516.0,305.9"/>
<path fill="none" stroke="#000" stroke-width="8.20" stroke-linecap="butt" d="M530.9,317.2 C530.5,319.5 529.5,327.4 528.6,330.9 C527.6,334.5 525.9,336.1 525.1,338.4 C524.4,340.7 524.1,343.0 524.0,344.7 C523.9,346.4 525.2,347.6 524.6,348.7 C523.9,349.8 521.6,351.5 520.0,351.3 C518.4,351.2 515.7,348.5 514.8,347.9"/><path fill="none" stroke="#fff" stroke-width="4.22" stroke-linecap="butt" d="M530.9,317.2 C530.5,319.5 529.5,327.4 528.6,330.9 C527.6,334.5 525.9,336.1 525.1,338.4 C524.4,340.7 524.1,343.0 524.0,344.7 C523.9,346.4 525.2,347.6 524.6,348.7 C523.9,349.8 521.6,351.5 520.0,351.3 C518.4,351.2 515.7,348.5 514.8,347.9"/>
<path fill="#000" stroke="#000" stroke-width="1.14" d="M521.4,336.4 L531.4,338.4 L531.2,340.3 L520.9,338.7Z M520.4,340.1 L530.8,342.2 L530.3,344.0 L520.2,342.2Z"/>
<path fill="none" stroke="#000" stroke-width="6.20" stroke-linecap="butt" d="M517.1,306.9 C517.3,310.9 518.5,325.7 518.3,330.9 C518.1,336.2 518.8,334.7 516.0,338.4 C513.2,342.1 505.8,349.2 501.7,353.3 C497.6,357.4 493.1,361.4 491.4,363.0"/><path fill="none" stroke="#fff" stroke-width="2.22" stroke-linecap="butt" d="M517.1,306.9 C517.3,310.9 518.5,325.7 518.3,330.9 C518.1,336.2 518.8,334.7 516.0,338.4 C513.2,342.1 505.8,349.2 501.7,353.3 C497.6,357.4 493.1,361.4 491.4,363.0"/>
<path fill="none" stroke="#000" stroke-width="7.40" stroke-linecap="butt" d="M512.2,324.6 C512.1,326.1 513.1,330.4 511.7,333.2 C510.4,336.1 506.6,339.2 504.0,341.8 C501.3,344.4 497.1,347.5 495.7,348.7"/><path fill="none" stroke="#fff" stroke-width="3.42" stroke-linecap="butt" d="M512.2,324.6 C512.1,326.1 513.1,330.4 511.7,333.2 C510.4,336.1 506.6,339.2 504.0,341.8 C501.3,344.4 497.1,347.5 495.7,348.7"/>
<path fill="none" stroke="#000" stroke-width="6.80" stroke-linecap="butt" d="M505.1,300.0 C505.2,303.3 506.6,315.5 505.9,320.0 C505.2,324.6 503.3,324.9 501.1,327.5 C498.9,330.1 494.6,333.5 492.5,335.5 C490.4,337.5 489.2,338.9 488.5,339.5"/><path fill="none" stroke="#fff" stroke-width="2.82" stroke-linecap="butt" d="M505.1,300.0 C505.2,303.3 506.6,315.5 505.9,320.0 C505.2,324.6 503.3,324.9 501.1,327.5 C498.9,330.1 494.6,333.5 492.5,335.5 C490.4,337.5 489.2,338.9 488.5,339.5"/>
<path fill="none" stroke="#000" stroke-width="1.99" d="M499.4,334.4 L504.0,330.4 L506.8,326.4 M502.8,345.8 L510.8,336.7"/>
<path fill="#000" stroke="#000" stroke-width="1.14" d="M485.4,336.9 L489.6,334.9 L492.3,341.2 L487.9,345.3Z"/>
<path fill="#fff" stroke="#000" stroke-width="1.14" d="M487.5,338.4 L489.3,337.6 L490.4,341.2 L488.6,342.6Z"/>
<path fill="none" stroke="#000" stroke-width="6.20" stroke-linecap="butt" d="M486.8,344.1 C486.2,343.6 484.7,341.5 483.3,341.2 C482.0,341.0 479.4,341.1 478.5,342.6 C477.6,344.1 477.6,347.5 477.8,350.4 C478.0,353.3 479.4,358.5 479.7,360.1"/><path fill="none" stroke="#fff" stroke-width="2.22" stroke-linecap="butt" d="M486.8,344.1 C486.2,343.6 484.7,341.5 483.3,341.2 C482.0,341.0 479.4,341.1 478.5,342.6 C477.6,344.1 477.6,347.5 477.8,350.4 C478.0,353.3 479.4,358.5 479.7,360.1"/>
<path fill="none" stroke="#000" stroke-width="1.99" d="M467.3,368.7 L474.2,363.0 M471.9,370.0 L478.7,365.3"/>
<path fill="none" stroke="#000" stroke-width="1.85" d="M540.2,317.6 L560.0,325.0"/>
<path fill="none" stroke="#000" stroke-width="3.80" stroke-linecap="round" d="M504.6,357.3 L535.7,373.3"/><path fill="none" stroke="#fff" stroke-width="0.68" stroke-linecap="round" d="M504.6,357.3 L535.7,373.3"/>
<path fill="none" stroke="#000" stroke-width="1.42" d="M508.7,358.2 L531.7,369.7"/>
<path fill="#000" stroke="#000" stroke-width="1.14" d="M485.6,257.1 L489.7,255.5 L493.0,258.7 L491.4,263.6 L487.3,262.8Z"/>
<path fill="#fff" stroke="#000" stroke-width="1.42" d="M487.6,258.4 L489.9,257.4 L491.2,260.0 L489.2,261.7Z"/>
<path fill="#000" stroke="#000" stroke-width="1.14" d="M491.9,262.0 L495.5,259.6 L499.6,262.8 L498.7,268.6 L493.8,268.2Z"/>
<path fill="#fff" stroke="#000" stroke-width="1.42" d="M494.2,262.8 L496.1,261.7 L497.4,264.5 L495.5,266.1Z"/>
<path fill="#000" stroke="#000" stroke-width="1.14" d="M498.4,266.9 L502.0,264.5 L505.6,268.6 L504.5,274.3 L499.6,273.5Z"/>
<path fill="#fff" stroke="#000" stroke-width="1.42" d="M500.4,268.2 L502.3,266.9 L503.6,270.2 L501.7,271.8Z"/>
<path fill="#000" stroke="#000" stroke-width="1.14" d="M487.3,271.8 L492.2,270.2 L497.1,273.5 L502.0,276.7 L503.6,283.3 L498.7,284.9 L492.2,281.7 L488.1,276.7Z"/>
<path fill="#fff" stroke="#000" stroke-width="1.42" d="M490.2,273.1 L493.0,272.7 L494.6,275.9 L491.9,276.7Z M496.8,276.7 L499.6,277.6 L500.4,281.7 L497.4,280.8Z"/>
<path fill="none" stroke="#000" stroke-width="2.56" d="M173.2,454.9 L183.0,453.7"/>
<path fill="none" stroke="#000" stroke-width="1.85" d="M540.1,318.5 C542.2,319.2 548.6,321.5 553.0,323.0 C557.4,324.5 563.4,327.4 566.6,327.7 C569.9,328.0 570.9,325.4 572.5,325.0 C574.1,324.6 575.7,324.8 576.5,325.4 C577.3,325.9 577.2,327.8 577.4,328.3 M460.8,374.9 L473.2,363.7 M464.7,376.8 L478.4,365.1"/>
<path fill="none" stroke="#000" stroke-width="3.12" d="M469.3,379.1 L482.4,369.4"/>
<path fill="none" stroke="#000" stroke-width="1.85" d="M471.9,381.4 L484.3,372.3 M475.2,350.0 L479.8,362.4 M480.4,350.0 L482.4,359.2 M487.6,361.8 L500.7,350.0 M489.6,363.7 L503.3,351.3 M492.2,365.5 L508.6,352.6"/>
<path fill="#fff" stroke="#000" stroke-width="2.13" d="M458.2,386.0 L459.5,394.5 L469.3,403.7 L473.9,403.0 L475.2,397.8 L469.3,392.6 L464.7,392.6 L464.0,388.6Z"/>
<path fill="none" stroke="#000" stroke-width="1.99" d="M464.0,388.6 L464.7,397.1 L469.3,403.7 M464.7,397.1 L475.2,397.8 M459.5,389.3 L464.3,393.2 M464.7,386.7 L468.6,386.0 L468.6,389.3 M430.0,384.0 C432.4,383.9 440.9,384.4 444.4,383.4 C447.9,382.4 449.0,379.2 450.9,378.2 C452.9,377.1 455.3,377.1 456.2,376.8 M430.0,388.0 C432.6,388.0 441.8,388.6 445.7,388.0 C449.6,387.3 451.5,384.7 453.6,384.0 C455.6,383.4 457.4,384.3 458.2,384.3 M443.1,394.5 C444.2,394.2 447.5,393.5 449.6,392.6 C451.8,391.6 455.1,389.3 456.2,388.6 M448.3,398.4 C449.2,398.0 451.8,396.8 453.6,395.8 C455.3,394.8 457.9,393.1 458.8,392.6 M430.0,394.5 L435.2,395.8 L435.2,401.7 L430.0,402.4"/>
<path fill="none" stroke="#000" stroke-width="1.85" d="M435.2,399.8 L440.5,400.0"/>
</svg>
</body></html>
